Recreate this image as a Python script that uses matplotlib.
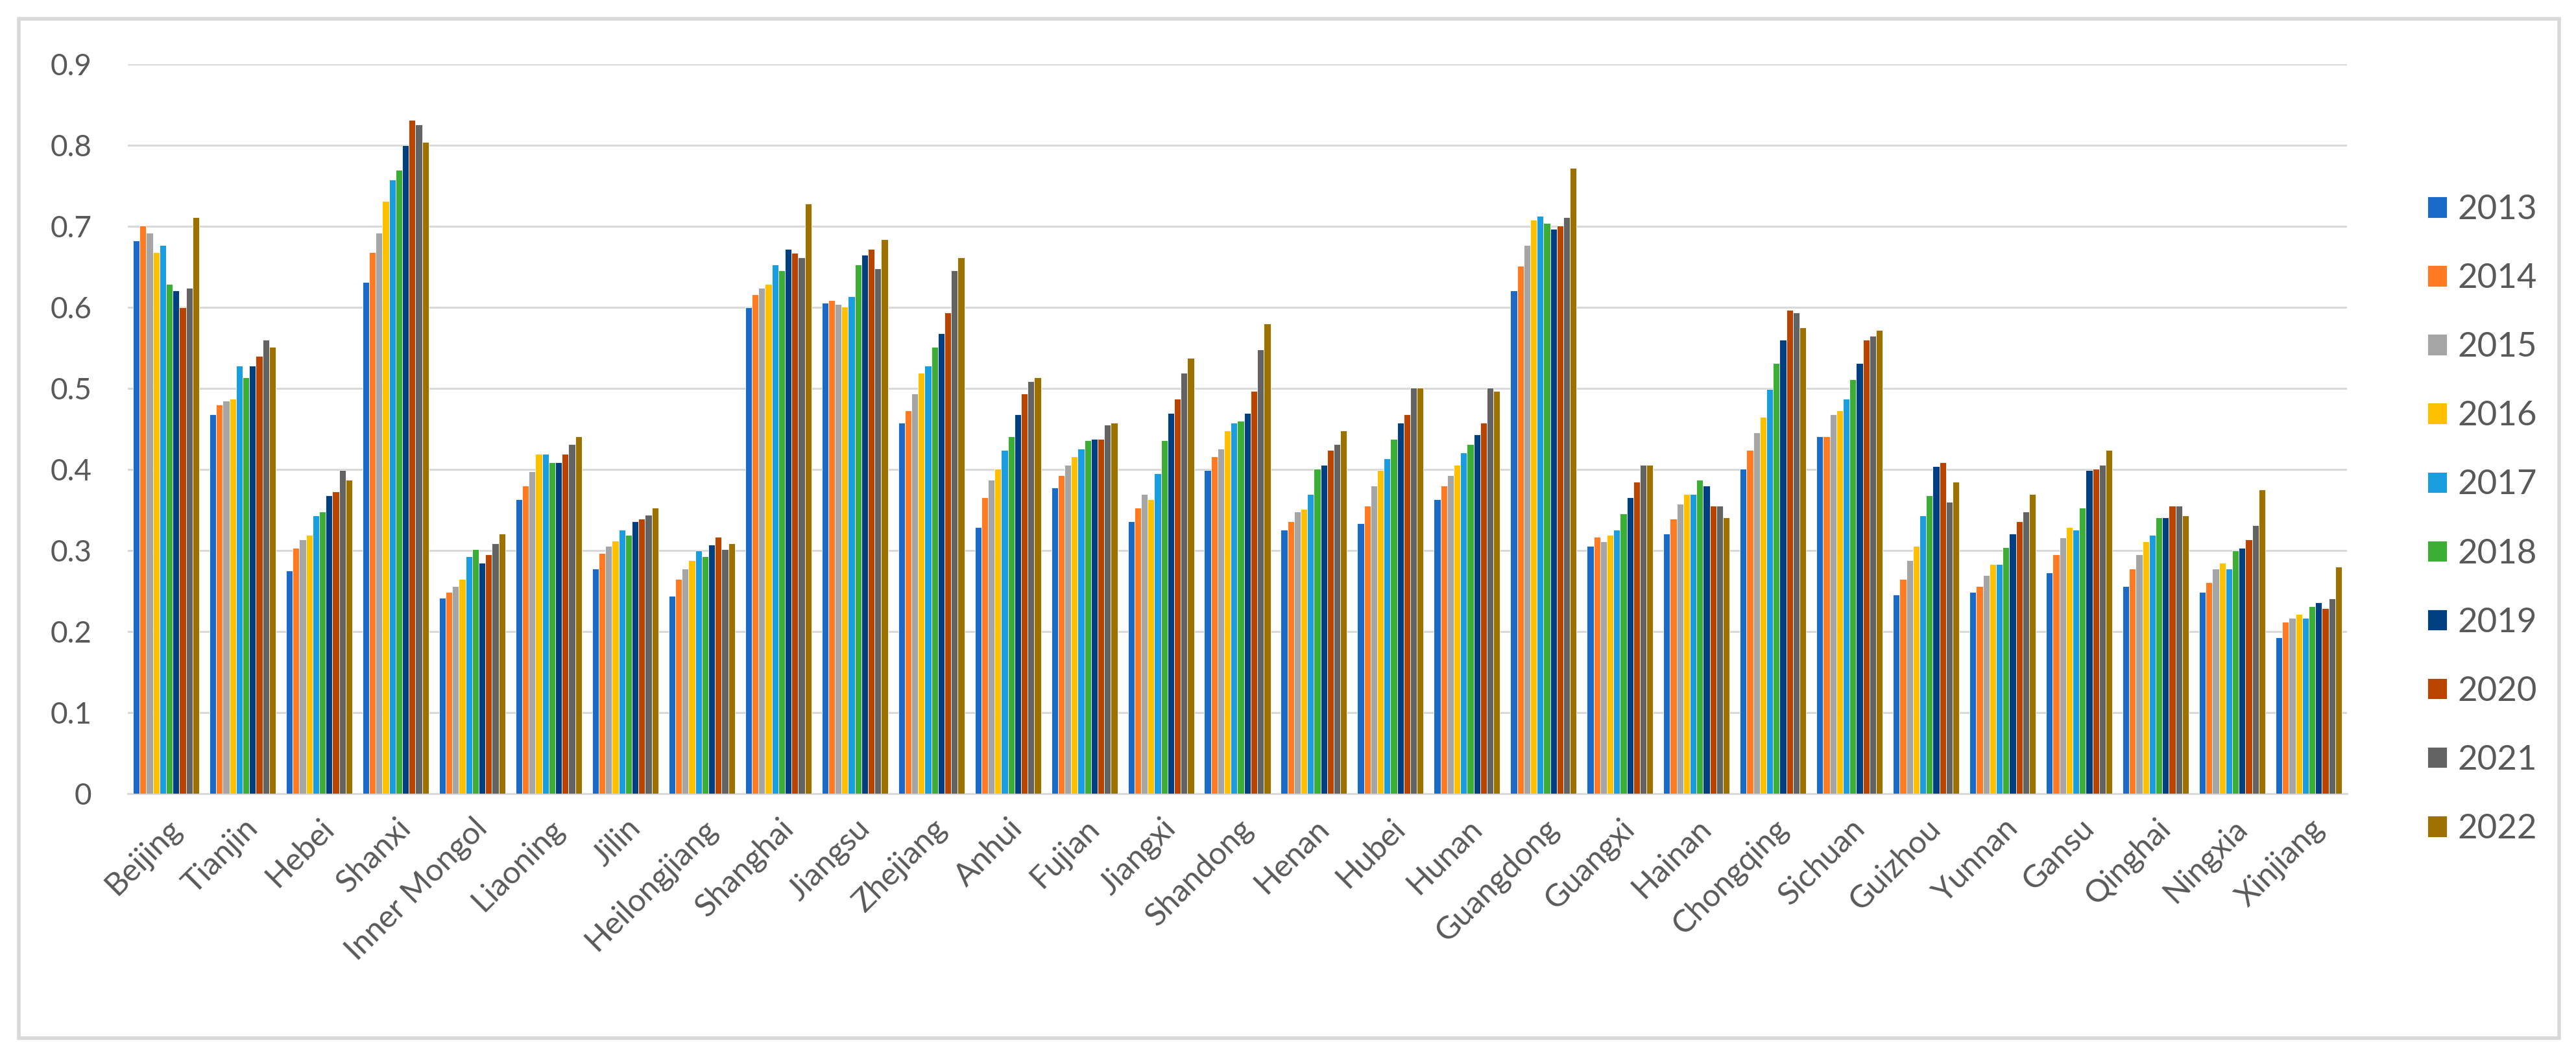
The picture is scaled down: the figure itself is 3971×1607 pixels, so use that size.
import numpy as np
import matplotlib
matplotlib.use("Agg")
import matplotlib.pyplot as plt
from matplotlib.patches import Rectangle

plt.rcParams["font.family"] = ["Lato", "DejaVu Sans"]

provinces = ["Beijing", "Tianjin", "Hebei", "Shanxi", "Inner Mongol", "Liaoning",
             "Jilin", "Heilongjiang", "Shanghai", "Jiangsu", "Zhejiang", "Anhui",
             "Fujian", "Jiangxi", "Shandong", "Henan", "Hubei", "Hunan", "Guangdong",
             "Guangxi", "Hainan", "Chongqing", "Sichuan", "Guizhou", "Yunnan", "Gansu",
             "Qinghai", "Ningxia", "Xinjiang"]
years = ["2013", "2014", "2015", "2016", "2017", "2018", "2019", "2020", "2021", "2022"]

# one row per province, columns 2013..2022
beijing = [0.682, 0.701, 0.692, 0.668, 0.677, 0.629, 0.621, 0.600, 0.624, 0.711]
tianjin = [0.468, 0.480, 0.485, 0.487, 0.528, 0.514, 0.528, 0.540, 0.560, 0.551]
hebei = [0.275, 0.303, 0.314, 0.319, 0.343, 0.348, 0.368, 0.373, 0.399, 0.387]
shanxi = [0.631, 0.668, 0.692, 0.731, 0.758, 0.770, 0.800, 0.831, 0.826, 0.804]
inner_mongol = [0.242, 0.249, 0.256, 0.265, 0.293, 0.302, 0.285, 0.295, 0.309, 0.321]
liaoning = [0.363, 0.380, 0.398, 0.419, 0.419, 0.409, 0.409, 0.419, 0.431, 0.441]
jilin = [0.278, 0.297, 0.306, 0.312, 0.326, 0.319, 0.336, 0.339, 0.344, 0.353]
heilongjiang = [0.244, 0.265, 0.278, 0.288, 0.300, 0.293, 0.307, 0.317, 0.302, 0.309]
shanghai = [0.600, 0.616, 0.624, 0.629, 0.653, 0.646, 0.672, 0.667, 0.662, 0.728]
jiangsu = [0.606, 0.609, 0.604, 0.601, 0.614, 0.653, 0.665, 0.672, 0.648, 0.684]
zhejiang = [0.458, 0.473, 0.494, 0.519, 0.528, 0.551, 0.568, 0.594, 0.646, 0.662]
anhui = [0.329, 0.366, 0.387, 0.401, 0.424, 0.441, 0.468, 0.494, 0.509, 0.514]
fujian = [0.378, 0.393, 0.406, 0.416, 0.426, 0.436, 0.438, 0.438, 0.455, 0.458]
jiangxi = [0.336, 0.353, 0.370, 0.363, 0.395, 0.436, 0.470, 0.487, 0.519, 0.538]
shandong = [0.399, 0.416, 0.426, 0.448, 0.458, 0.460, 0.470, 0.497, 0.548, 0.580]
henan = [0.326, 0.336, 0.348, 0.351, 0.370, 0.401, 0.406, 0.424, 0.431, 0.448]
hubei = [0.334, 0.355, 0.380, 0.399, 0.414, 0.438, 0.458, 0.468, 0.501, 0.501]
hunan = [0.363, 0.380, 0.393, 0.406, 0.421, 0.431, 0.443, 0.458, 0.501, 0.497]
guangdong = [0.621, 0.651, 0.677, 0.708, 0.713, 0.704, 0.697, 0.701, 0.711, 0.772]
guangxi = [0.306, 0.317, 0.311, 0.319, 0.326, 0.346, 0.366, 0.385, 0.406, 0.406]
hainan = [0.321, 0.339, 0.358, 0.370, 0.370, 0.387, 0.380, 0.355, 0.355, 0.341]
chongqing = [0.401, 0.424, 0.446, 0.465, 0.499, 0.531, 0.560, 0.597, 0.594, 0.575]
sichuan = [0.441, 0.441, 0.468, 0.473, 0.487, 0.511, 0.531, 0.560, 0.565, 0.572]
guizhou = [0.246, 0.265, 0.288, 0.306, 0.343, 0.368, 0.404, 0.409, 0.360, 0.385]
yunnan = [0.249, 0.256, 0.270, 0.283, 0.283, 0.304, 0.321, 0.336, 0.348, 0.370]
gansu = [0.273, 0.295, 0.316, 0.329, 0.326, 0.353, 0.399, 0.401, 0.406, 0.424]
qinghai = [0.256, 0.278, 0.295, 0.311, 0.319, 0.341, 0.341, 0.355, 0.355, 0.343]
ningxia = [0.249, 0.261, 0.278, 0.285, 0.278, 0.300, 0.303, 0.314, 0.331, 0.375]
xinjiang = [0.193, 0.212, 0.217, 0.222, 0.217, 0.231, 0.236, 0.229, 0.241, 0.280]

colors = ["#1A6BC8", "#FF7A21", "#A5A5A5", "#FFC000", "#1A9DDE",
          "#3DAE35", "#003F80", "#B94400", "#636363", "#9C7100"]

table = np.array([beijing, tianjin, hebei, shanxi, inner_mongol, liaoning, jilin,
                  heilongjiang, shanghai, jiangsu, zhejiang, anhui, fujian, jiangxi,
                  shandong, henan, hubei, hunan, guangdong, guangxi, hainan, chongqing,
                  sichuan, guizhou, yunnan, gansu, qinghai, ningxia, xinjiang])

W, H = 3971, 1607
fig = plt.figure(figsize=(W / 100, H / 100), dpi=100)
ax = fig.add_axes([197 / W, 1 - 1224 / H, (3618 - 197) / W, (1224 - 99) / H])

x = np.arange(len(provinces))
n = len(years)
bw = 0.0865
for i, yr in enumerate(years):
    ax.bar(x - bw * (n - 1) / 2 + i * bw, table[:, i], width=bw, color=colors[i],
           edgecolor="white", linewidth=0.6, label=yr, zorder=3)

ax.set_xlim(-0.5, len(provinces) - 0.5)
ax.set_ylim(0, 0.9)
ax.set_yticks(np.arange(0, 0.91, 0.1))
ax.set_yticklabels(["0", "0.1", "0.2", "0.3", "0.4", "0.5", "0.6", "0.7", "0.8", "0.9"])
ax.yaxis.grid(True, color="#D9D9D9", linewidth=2.2, zorder=0)
ax.set_axisbelow(True)
for side in ["top", "right", "left"]:
    ax.spines[side].set_visible(False)
ax.spines["bottom"].set_color("#D9D9D9")
ax.spines["bottom"].set_linewidth(2.2)

ax.set_xticks(x)
ax.set_xticklabels(provinces, rotation=45, ha="right", rotation_mode="anchor")
ax.tick_params(axis="x", length=0, pad=22, labelsize=35, labelcolor="#595959")
ax.tick_params(axis="y", length=0, pad=40, labelsize=33, labelcolor="#595959")

ax.legend(loc="center left", bbox_to_anchor=(3716 / W, 1 - 801 / H),
          bbox_transform=fig.transFigure, frameon=False, fontsize=38,
          labelcolor="#595959", handlelength=0.57, handleheight=0.57,
          handletextpad=0.3, labelspacing=1.12, borderpad=0)

# outer chart border
fig.patches.append(Rectangle((29 / W, 6 / H), (3945 - 29) / W, (1578 - 6) / H,
                             transform=fig.transFigure, fill=False,
                             edgecolor="#D9D9D9", linewidth=4))

fig.savefig("out.png", dpi=100)
